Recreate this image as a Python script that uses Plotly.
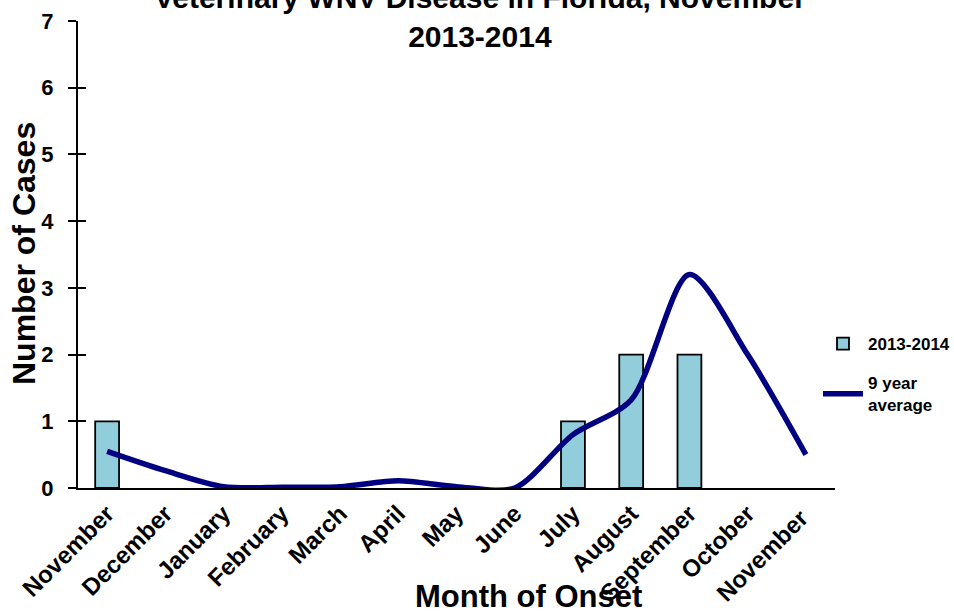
import plotly.graph_objects as go

months = ["November", "December", "January", "February", "March", "April", "May",
          "June", "July", "August", "September", "October", "November "]
cases_2013_2014 = [1, 0, 0, 0, 0, 0, 0, 0, 1, 2, 2, 0, 0]
nine_year_avg = [0.55, 0.26, 0.02, 0.01, 0.02, 0.11, 0.02, 0.0, 0.8, 1.32, 3.2, 2.0, 0.5]
y_ticks = [0, 1, 2, 3, 4, 5, 6, 7]

font_family = "Liberation Sans, Arial, sans-serif"

W, H = 954, 614
ML, MR, MT, MB = 78, 119, 21, 126
PW, PH = W - ML - MR, H - MT - MB

def px_x(px):
    return (px - ML) / PW

def px_y(py):
    return (H - MB - py) / PH

fig = go.Figure()
fig.add_trace(go.Bar(
    x=months, y=[v if v else None for v in cases_2013_2014], name="2013-2014",
    marker=dict(color="#92CDDC", line=dict(color="black", width=1.8)),
    width=0.41, legendgroup="a",
))
fig.add_trace(go.Scatter(
    x=months, y=nine_year_avg, name="9 year<br>average", mode="lines",
    line=dict(color="#000080", width=5.5, shape="spline", smoothing=0.8),
    legendgroup="b",
))
# invisible trace on overlay axis for inner ticks
fig.add_trace(go.Scatter(x=months, y=[None] * len(months), yaxis="y2",
                         showlegend=False, hoverinfo="skip"))

fig.update_layout(
    width=W, height=H,
    margin=dict(l=ML, r=MR, t=MT, b=MB, autoexpand=False),
    paper_bgcolor="white", plot_bgcolor="white",
    font=dict(family=font_family, color="black"),
    title=dict(text="<b>Veterinary WNV Disease in Florida, November<br>2013-2014</b>",
               x=0.503, xanchor="center", y=1 - 8 / H, yanchor="middle",
               font=dict(size=30, color="black")),
    xaxis=dict(range=[-0.5, 12.5], showline=True, linecolor="black", linewidth=2,
               ticks="", tickangle=-45,
               tickfont=dict(size=24, color="black", weight="bold"),
               showgrid=False, zeroline=False, automargin=False),
    yaxis=dict(range=[0, 7], tickvals=y_ticks, showline=True, linecolor="black",
               linewidth=2, ticks="outside", ticklen=8, tickwidth=2,
               tickcolor="black", showgrid=False, zeroline=False,
               tickfont=dict(size=22, color="black", weight="bold"),
               ticklabelstandoff=10, automargin=False),
    yaxis2=dict(range=[0, 7], tickvals=y_ticks, overlaying="y", anchor="x",
                side="left", ticks="inside", ticklen=8, tickwidth=2,
                tickcolor="black", showticklabels=False, showgrid=False,
                zeroline=False, showline=False, automargin=False),
    legend=dict(x=px_x(818), y=px_y(326), xanchor="left", yanchor="top",
                font=dict(size=17, color="black", weight="bold"),
                bgcolor="rgba(0,0,0,0)", itemwidth=40, tracegroupgap=14),
    annotations=[
        dict(text="<b>Month of Onset</b>", x=px_x(528), y=px_y(596),
             xref="paper", yref="paper", showarrow=False,
             xanchor="center", yanchor="middle",
             font=dict(size=31, color="black")),
        dict(text="<b>Number of Cases</b>", x=px_x(24), y=px_y(254),
             xref="paper", yref="paper", showarrow=False, textangle=-90,
             xanchor="center", yanchor="middle",
             font=dict(size=32, color="black")),
    ],
)

fig.write_html("out.html", config={"displayModeBar": False},
               post_script="document.body.style.margin='0';document.body.style.overflow='hidden';")
